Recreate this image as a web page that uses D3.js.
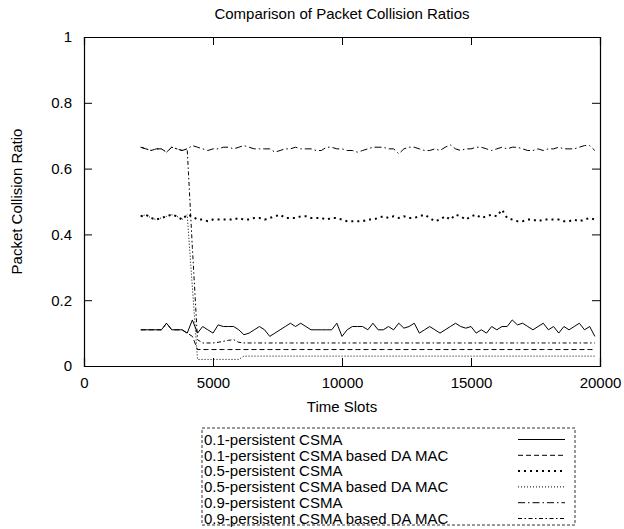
<!DOCTYPE html>
<html>
<head>
<meta charset="utf-8">
<script src="https://cdn.jsdelivr.net/npm/d3@7"></script>
<style>
  body { margin: 0; background: #fff; }
  text { font-family: "Liberation Sans", Arial, Helvetica, sans-serif; fill: #000; }
</style>
</head>
<body>
<div id="chart"></div>
<script>
const slots = [
  2200,2400,2600,2800,3000,3200,3400,3600,3800,4000,
  4200,4400,4600,4800,5000,5200,5400,5600,5800,6000,
  6200,6400,6600,6800,7000,7200,7400,7600,7800,8000,
  8200,8400,8600,8800,9000,9200,9400,9600,9800,10000,
  10200,10400,10600,10800,11000,11200,11400,11600,11800,12000,
  12200,12400,12600,12800,13000,13200,13400,13600,13800,14000,
  14200,14400,14600,14800,15000,15200,15400,15600,15800,16000,
  16200,16400,16600,16800,17000,17200,17400,17600,17800,18000,
  18200,18400,18600,18800,19000,19200,19400,19600,19800
]

const csma01 = [
  0.11,0.11,0.11,0.11,0.11,0.13,0.11,0.11,0.11,0.10,
  0.14,0.10,0.12,0.11,0.10,0.125,0.12,0.12,0.12,0.11,
  0.095,0.10,0.11,0.12,0.11,0.09,0.10,0.11,0.12,0.13,
  0.12,0.13,0.12,0.11,0.11,0.11,0.11,0.11,0.13,0.09,
  0.11,0.12,0.12,0.12,0.11,0.13,0.11,0.11,0.12,0.11,
  0.13,0.115,0.12,0.13,0.10,0.11,0.12,0.11,0.10,0.11,
  0.12,0.13,0.12,0.115,0.12,0.10,0.11,0.10,0.12,0.11,
  0.12,0.12,0.14,0.125,0.13,0.12,0.11,0.12,0.13,0.11,
  0.12,0.10,0.12,0.11,0.12,0.13,0.11,0.12,0.09
]

const da01 = [
  0.11,0.11,0.11,0.11,0.11,0.13,0.11,0.11,0.11,0.10,
  0.09,0.05,0.05,0.05,0.05,0.05,0.05,0.05,0.05,0.05,
  0.05,0.05,0.05,0.05,0.05,0.05,0.05,0.05,0.05,0.05,
  0.05,0.05,0.05,0.05,0.05,0.05,0.05,0.05,0.05,0.05,
  0.05,0.05,0.05,0.05,0.05,0.05,0.05,0.05,0.05,0.05,
  0.05,0.05,0.05,0.05,0.05,0.05,0.05,0.05,0.05,0.05,
  0.05,0.05,0.05,0.05,0.05,0.05,0.05,0.05,0.05,0.05,
  0.05,0.05,0.05,0.05,0.05,0.05,0.05,0.05,0.05,0.05,
  0.05,0.05,0.05,0.05,0.05,0.05,0.05,0.05,0.05
]

const csma05 = [
  0.455,0.46,0.45,0.445,0.45,0.455,0.46,0.455,0.445,0.46,
  0.455,0.445,0.445,0.44,0.445,0.445,0.445,0.445,0.445,0.45,
  0.445,0.445,0.45,0.45,0.445,0.45,0.455,0.46,0.45,0.45,
  0.45,0.455,0.455,0.45,0.45,0.45,0.445,0.45,0.45,0.445,
  0.44,0.44,0.44,0.44,0.445,0.445,0.45,0.455,0.45,0.455,
  0.45,0.455,0.45,0.45,0.455,0.46,0.45,0.44,0.445,0.455,
  0.445,0.46,0.455,0.445,0.455,0.46,0.45,0.455,0.46,0.455,
  0.475,0.45,0.445,0.44,0.44,0.445,0.445,0.44,0.445,0.445,
  0.445,0.445,0.44,0.44,0.445,0.44,0.445,0.45,0.445
]

const da05 = [
  0.455,0.46,0.45,0.445,0.45,0.455,0.46,0.455,0.445,0.46,
  0.24,0.02,0.02,0.02,0.02,0.02,0.02,0.02,0.02,0.02,
  0.03,0.03,0.03,0.03,0.03,0.03,0.03,0.03,0.03,0.03,
  0.03,0.03,0.03,0.03,0.03,0.03,0.03,0.03,0.03,0.03,
  0.03,0.03,0.03,0.03,0.03,0.03,0.03,0.03,0.03,0.03,
  0.03,0.03,0.03,0.03,0.03,0.03,0.03,0.03,0.03,0.03,
  0.03,0.03,0.03,0.03,0.03,0.03,0.03,0.03,0.03,0.03,
  0.03,0.03,0.03,0.03,0.03,0.03,0.03,0.03,0.03,0.03,
  0.03,0.03,0.03,0.03,0.03,0.03,0.03,0.03,0.03
]

const csma09 = [
  0.665,0.66,0.655,0.66,0.66,0.65,0.665,0.66,0.655,0.66,
  0.67,0.665,0.66,0.655,0.66,0.66,0.665,0.665,0.66,0.665,
  0.67,0.665,0.66,0.66,0.66,0.66,0.65,0.655,0.66,0.66,
  0.665,0.66,0.66,0.66,0.655,0.655,0.665,0.665,0.66,0.66,
  0.655,0.655,0.65,0.655,0.66,0.665,0.665,0.665,0.66,0.66,
  0.645,0.66,0.665,0.665,0.66,0.655,0.655,0.66,0.655,0.665,
  0.672,0.66,0.655,0.66,0.66,0.665,0.665,0.66,0.655,0.66,
  0.665,0.66,0.665,0.665,0.66,0.655,0.655,0.66,0.655,0.66,
  0.66,0.665,0.66,0.66,0.66,0.665,0.67,0.67,0.655
]

const da09 = [
  0.665,0.66,0.655,0.66,0.66,0.65,0.665,0.66,0.655,0.66,
  0.36,0.08,0.07,0.07,0.07,0.072,0.075,0.078,0.08,0.072,
  0.07,0.07,0.07,0.07,0.07,0.07,0.07,0.07,0.07,0.07,
  0.07,0.07,0.07,0.07,0.07,0.07,0.07,0.07,0.07,0.07,
  0.07,0.07,0.07,0.07,0.07,0.07,0.07,0.07,0.07,0.07,
  0.07,0.07,0.07,0.07,0.07,0.07,0.07,0.07,0.07,0.07,
  0.07,0.07,0.07,0.07,0.07,0.07,0.07,0.07,0.07,0.07,
  0.07,0.07,0.07,0.07,0.07,0.07,0.07,0.07,0.07,0.07,
  0.07,0.07,0.07,0.07,0.07,0.07,0.07,0.07,0.07
]

const xTicks = [0, 5000, 10000, 15000, 20000]
const yTicks = [0, 0.2, 0.4, 0.6, 0.8, 1]

const series = [
  { label: '0.1-persistent CSMA', values: csma01, dash: null, width: 1 },
  { label: '0.1-persistent CSMA based DA MAC', values: da01, dash: '5,3', width: 1 },
  { label: '0.5-persistent CSMA', values: csma05, dash: '2,4', width: 2 },
  { label: '0.5-persistent CSMA based DA MAC', values: da05, dash: '1,2', width: 1 },
  { label: '0.9-persistent CSMA', values: csma09, dash: '7,3,1.5,3', width: 1 },
  { label: '0.9-persistent CSMA based DA MAC', values: da09, dash: '4,2.5,1.5,2.5', width: 1 }
]

const width = 624, height = 529
const margin = { left: 84, right: 24, top: 37, bottom: 163 }

const svg = d3.select('#chart')
  .append('svg')
  .attr('width', width)
  .attr('height', height)

const x = d3.scaleLinear().domain([0, 20000]).range([margin.left, width - margin.right])
const y = d3.scaleLinear().domain([0, 1]).range([height - margin.bottom, margin.top])

const fs = 15

// title
svg.append('text')
  .attr('x', (x(0) + x(20000)) / 2)
  .attr('y', 14)
  .attr('dy', '0.35em')
  .attr('text-anchor', 'middle')
  .attr('font-size', fs)
  .text('Comparison of Packet Collision Ratios')

// axes: gnuplot style inward ticks on all four sides
const tickLen = 8
const axes = svg.append('g').attr('class', 'axes')

axes.append('g')
  .attr('transform', `translate(0,${y(0)})`)
  .call(d3.axisBottom(x).tickValues(xTicks).tickSize(-tickLen).tickPadding(11).tickFormat(d3.format('d')))
axes.append('g')
  .attr('transform', `translate(0,${y(1)})`)
  .call(d3.axisTop(x).tickValues(xTicks).tickSize(-tickLen).tickFormat(''))
axes.append('g')
  .attr('transform', `translate(${x(0)},0)`)
  .call(d3.axisLeft(y).tickValues(yTicks).tickSize(-tickLen).tickPadding(12).tickFormat(d => d === 0 || d === 1 ? d3.format('d')(d) : d3.format('.1f')(d)))
axes.append('g')
  .attr('transform', `translate(${x(20000)},0)`)
  .call(d3.axisRight(y).tickValues(yTicks).tickSize(-tickLen).tickFormat(''))

axes.selectAll('.domain').attr('stroke', '#000').attr('stroke-width', 1.2)
axes.selectAll('.tick line').attr('stroke', '#000')
axes.selectAll('.tick text')
  .attr('font-size', fs)
  .attr('font-family', '"Liberation Sans", Arial, Helvetica, sans-serif')
  .attr('fill', '#000')

// axis labels
svg.append('text')
  .attr('x', (x(0) + x(20000)) / 2)
  .attr('y', 407)
  .attr('dy', '0.35em')
  .attr('text-anchor', 'middle')
  .attr('font-size', fs)
  .text('Time Slots')

svg.append('text')
  .attr('transform', `translate(17,${(y(0) + y(1)) / 2}) rotate(-90)`)
  .attr('dy', '0.35em')
  .attr('text-anchor', 'middle')
  .attr('font-size', fs)
  .text('Packet Collision Ratio')

// lines
const line = d3.line()
  .x((d, i) => x(slots[i]))
  .y(d => y(d))

svg.append('g').attr('class', 'lines')
  .selectAll('path')
  .data(series)
  .join('path')
  .attr('d', d => line(d.values))
  .attr('fill', 'none')
  .attr('stroke', '#000')
  .attr('stroke-width', d => d.width)
  .attr('stroke-dasharray', d => d.dash)

// legend
const legend = { x0: 202, x1: 575, y0: 428, y1: 525, row: 15.8, first: 439.5 }
const lg = svg.append('g').attr('class', 'legend')

lg.append('rect')
  .attr('x', legend.x0)
  .attr('y', legend.y0)
  .attr('width', legend.x1 - legend.x0)
  .attr('height', legend.y1 - legend.y0)
  .attr('fill', 'none')
  .attr('stroke', '#333')
  .attr('stroke-dasharray', '3,2')

const item = lg.selectAll('.item')
  .data(series)
  .join('g')
  .attr('class', 'item')
  .attr('transform', (d, i) => `translate(0,${legend.first + i * legend.row})`)

item.append('text')
  .attr('x', legend.x0 + 2)
  .attr('dy', '0.35em')
  .attr('font-size', fs)
  .text(d => d.label)

item.append('line')
  .attr('x1', 518)
  .attr('x2', 565)
  .attr('stroke', '#000')
  .attr('stroke-width', d => d.width)
  .attr('stroke-dasharray', d => d.dash)
</script>
</body>
</html>
